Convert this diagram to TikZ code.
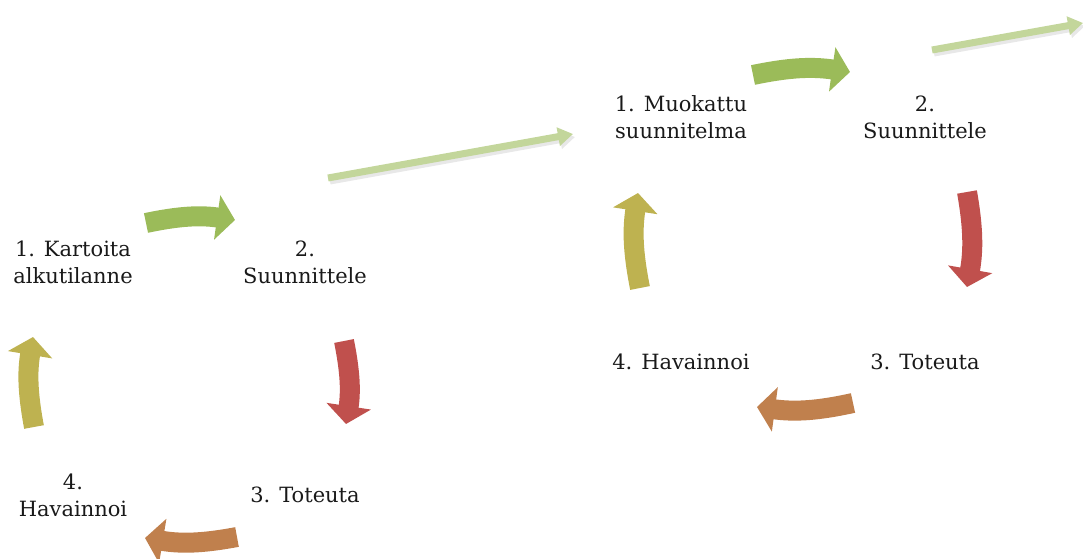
\documentclass[tikz,border=0pt]{standalone}
\usepackage{fontspec}
\setmainfont{DejaVu Serif}
\usetikzlibrary{arrows.meta}
\definecolor{cgreen}{HTML}{9BBB59}
\definecolor{cred}{HTML}{C0504D}
\definecolor{cbrown}{HTML}{C0804D}
\definecolor{colive}{HTML}{BEB250}
\definecolor{lgreen}{HTML}{C3D69B}

\begin{document}
\begin{tikzpicture}[
			x=1pt, y=1pt,
			phase/.style={align=center, text=black!90, font=\fontsize{21}{27}\selectfont},
			cyc/.style={line width=20pt, -{Triangle[length=18pt, width=44pt]}, bend left=10},
			link/.style={line width=7pt, lgreen, -{Triangle[length=15pt, width=18pt]}},
			linkshadow/.style={line width=7pt, black!9, -{Triangle[length=15pt, width=18pt]}}
			]
			\useasboundingbox (0,0) rectangle (1083,558);
			% left cycle
			\node[phase] (k1) at (73,296) {1. Kartoita\\alkutilanne};
			\node[phase] (k2) at (305,296) {2.\\Suunnittele};
			\node[phase] (k3) at (305,63) {3. Toteuta};
			\node[phase] (k4) at (73,63) {4.\\Havainnoi};
			
			\coordinate (ga1) at (146,335); \coordinate (ga2) at (235,338);
			\coordinate (ra1) at (344,217); \coordinate (ra2) at (346,134);
			\coordinate (ba1) at (237,21);  \coordinate (ba2) at (145,20);
			\coordinate (oa1) at (34,131);  \coordinate (oa2) at (33,221);
			
			\draw[cyc, cgreen] (ga1) to (ga2);
			\draw[cyc, cred] (ra1) to (ra2);
			\draw[cyc, cbrown] (ba1) to (ba2);
			\draw[cyc, colive] (oa1) to (oa2);
			
			% right cycle
			\node[phase] (m1) at (681,441) {1. Muokattu\\suunnitelma};
			\node[phase] (m2) at (925,441) {2.\\Suunnittele};
			\node[phase] (m3) at (925,196) {3. Toteuta};
			\node[phase] (m4) at (681,196) {4. Havainnoi};
			
			\coordinate (gb1) at (753,483); \coordinate (gb2) at (850,486);
			\coordinate (rb1) at (967,366); \coordinate (rb2) at (967,271);
			\coordinate (bb1) at (853,155); \coordinate (bb2) at (757,151);
			\coordinate (ob1) at (640,270); \coordinate (ob2) at (638,365);
			
			\draw[cyc, cgreen] (gb1) to (gb2);
			\draw[cyc, cred] (rb1) to (rb2);
			\draw[cyc, cbrown] (bb1) to (bb2);
			\draw[cyc, colive] (ob1) to (ob2);
			
			% links between the cycles
			\coordinate (la1) at (328,380); \coordinate (la2) at (573,424);
			\coordinate (lb1) at (932,508); \coordinate (lb2) at (1083,535);
			
			\draw[linkshadow] ([shift={(2,-3)}]la1) -- ([shift={(2,-3)}]la2);
			\draw[link] (la1) -- (la2);
			\draw[linkshadow] ([shift={(2,-3)}]lb1) -- ([shift={(2,-3)}]lb2);
			\draw[link] (lb1) -- (lb2);
		\end{tikzpicture}
\end{document}
